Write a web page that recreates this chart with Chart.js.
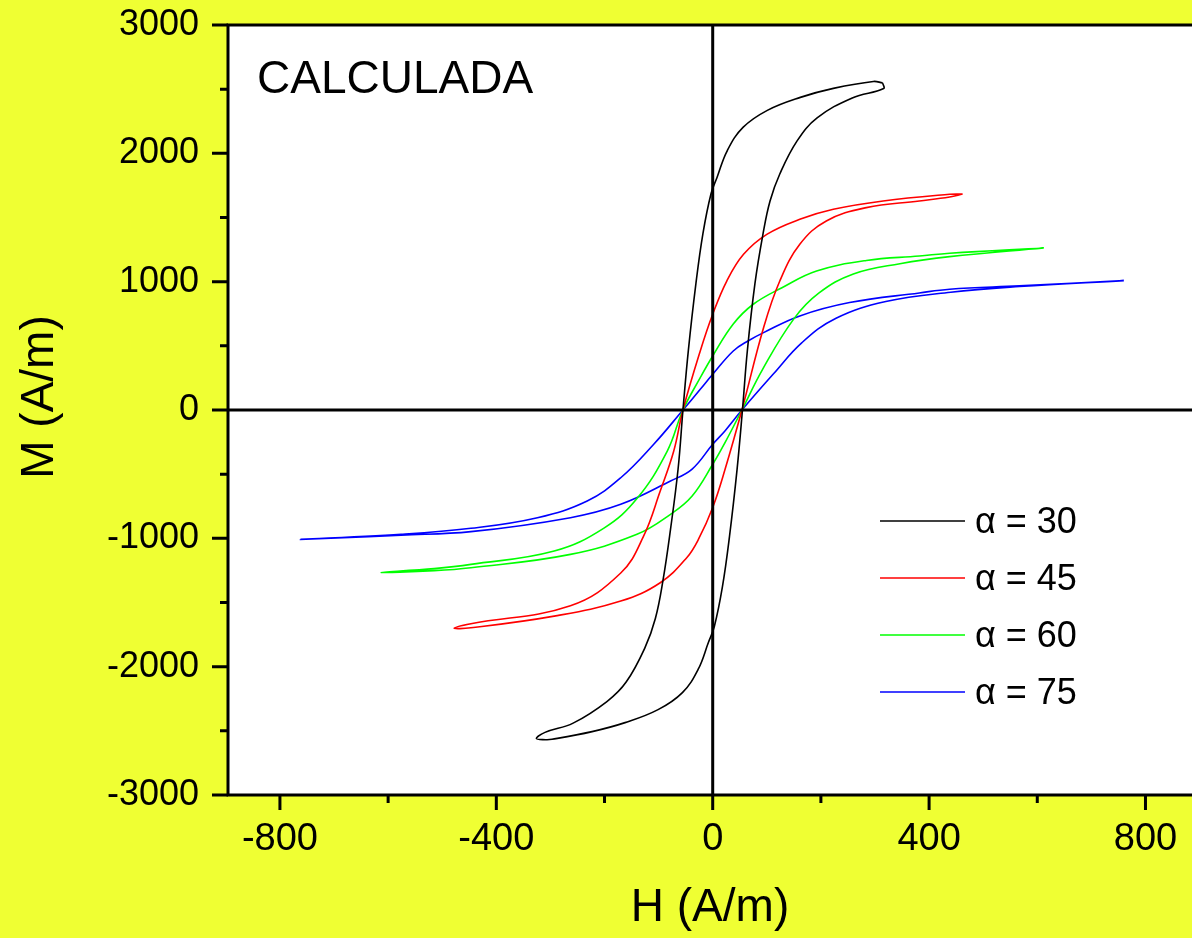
<!DOCTYPE html>
<html>
<head>
<meta charset="utf-8">
<script src="https://cdn.jsdelivr.net/npm/chart.js@4.4.1/dist/chart.umd.min.js"></script>
<style>
  html, body { margin: 0; padding: 0; background: #efff33; }
  #wrap { width: 1192px; height: 938px; }
</style>
</head>
<body>
<div id="wrap"><canvas id="chartLoop"></canvas></div>
<script>
// tick labels
const xTickLabels = [-800, -400, 0, 400, 800];
const yTickLabels = [-3000, -2000, -1000, 0, 1000, 2000, 3000];
const xMinorTicks = [-600, -200, 200, 600];
const yMinorTicks = [-2500, -1500, -500, 500, 1500, 2500];

// series labels
const seriesLabels = ['α = 30', 'α = 45', 'α = 60', 'α = 75'];

// each loop: descending branch (from the right tip) then ascending branch
// a = 30
const h30 = [314, 297, 223, 162, 101, 56, 27, 8, -3, -18, -31, -45, -55, -64, -78, -92, -106, -125, -160, -195, -258, -310, -326,
             -309, -297, -223, -162, -101, -56, -27, -8, 3, 18, 31, 45, 55, 64, 78, 93, 106, 124, 156, 193, 258, 316, 314];
const m30 = [2549, 2560, 2506, 2436, 2335, 2202, 2022, 1812, 1687, 1376, 986, 464, 0, -460, -930, -1330, -1625, -1850, -2120, -2270, -2440, -2512, -2560,
             -2569, -2566, -2506, -2436, -2335, -2202, -2022, -1812, -1687, -1376, -986, -464, 0, 460, 982, 1372, 1629, 1839, 2097, 2276, 2432, 2505, 2549];

// a = 45
const h45 = [462, 438, 315, 223, 161, 100, 57, 26, 0, -23, -55, -72, -97, -128, -170, -263, -447, -478,
             -447, -293, -170, -97, -48, -26, 0, 23, 54, 94, 124, 161, 210, 284, 382, 438, 462];
const m45 = [1683, 1681, 1629, 1564, 1486, 1369, 1213, 1005, 746, 460, 0, -320, -631, -985, -1270, -1525, -1665, -1700,
             -1697, -1606, -1489, -1346, -1151, -1005, -760, -460, 0, 641, 1005, 1291, 1473, 1577, 1629, 1660, 1683];

// a = 60
const h60 = [612, 438, 382, 284, 192, 128, 75, 38, 0, -23, -55, -84, -140, -201, -293, -447, -515, -613,
             -515, -447, -263, -140, -78, -38, 0, 23, 54, 92, 150, 196, 260, 346, 438, 612];
const m60 = [1262, 1222, 1200, 1165, 1083, 953, 824, 670, 421, 252, 0, -320, -690, -920, -1099, -1203, -1236, -1266,
             -1252, -1229, -1125, -969, -813, -670, -423, -252, 0, 315, 710, 910, 1060, 1140, 1195, 1262];

// a = 75
const h75 = [760, 567, 438, 382, 253, 161, 94, 66, 38, 0, -23, -55, -109, -170, -232, -324, -447, -576, -762,
             -576, -447, -263, -170, -78, -38, 0, 23, 54, 112, 165, 228, 320, 440, 567, 760];
const m75 = [1008, 967, 941, 912, 837, 733, 603, 540, 460, 278, 161, 0, -267, -528, -709, -839, -922, -969, -1008,
             -975, -948, -839, -735, -553, -460, -267, -161, 0, 280, 525, 715, 845, 918, 962, 1008];

const seriesColors = ['#000000', '#ff0000', '#00ff00', '#0000ff'];

function toPoints(hs, ms) {
    return hs.map((h, i) => ({ x: h, y: ms[i] }));
}

const loops = [[h30, m30], [h45, m45], [h60, m60], [h75, m75]];

const datasets = loops.map((loop, i) => ({
    label: seriesLabels[i],
    data: toPoints(loop[0], loop[1]),
    borderColor: seriesColors[i],
    backgroundColor: seriesColors[i],
    borderWidth: 1.6,
    pointRadius: 0,
    showLine: true,
    tension: 0.4,
    fill: false
}));

const framePlugin = {
    id: 'frame',
    beforeDraw(chart) {
        const { ctx, chartArea } = chart;
        ctx.save();
        ctx.fillStyle = '#ffffff';
        ctx.fillRect(chartArea.left, chartArea.top, chartArea.right - chartArea.left, chartArea.bottom - chartArea.top);
        ctx.restore();
    },
    afterDatasetsDraw(chart) {
        const { ctx, chartArea } = chart;
        const xs = chart.scales.x, ys = chart.scales.y;
        ctx.save();
        ctx.strokeStyle = '#000';
        ctx.lineWidth = 3;

        // zero lines
        const x0 = xs.getPixelForValue(0), y0 = ys.getPixelForValue(0);
        ctx.beginPath();
        ctx.moveTo(x0, chartArea.top);
        ctx.lineTo(x0, chartArea.bottom);
        ctx.moveTo(chartArea.left, y0);
        ctx.lineTo(chartArea.right, y0);
        ctx.stroke();

        // frame (right side is outside the picture)
        ctx.beginPath();
        ctx.moveTo(chartArea.right + 2, chartArea.top);
        ctx.lineTo(chartArea.left, chartArea.top);
        ctx.lineTo(chartArea.left, chartArea.bottom);
        ctx.lineTo(chartArea.right + 2, chartArea.bottom);
        ctx.stroke();

        // tick marks
        ctx.beginPath();
        xTickLabels.forEach(v => { const p = xs.getPixelForValue(v); ctx.moveTo(p, chartArea.bottom); ctx.lineTo(p, chartArea.bottom + 15); });
        xMinorTicks.forEach(v => { const p = xs.getPixelForValue(v); ctx.moveTo(p, chartArea.bottom); ctx.lineTo(p, chartArea.bottom + 8); });
        yTickLabels.forEach(v => { const p = ys.getPixelForValue(v); ctx.moveTo(chartArea.left - 16, p); ctx.lineTo(chartArea.left, p); });
        yMinorTicks.forEach(v => { const p = ys.getPixelForValue(v); ctx.moveTo(chartArea.left - 8, p); ctx.lineTo(chartArea.left, p); });
        ctx.stroke();

        // legend inside the plot
        ctx.font = '36px "Liberation Sans", Arial, sans-serif';
        ctx.textBaseline = 'middle';
        ctx.textAlign = 'left';
        chart.data.datasets.forEach((ds, i) => {
            const y = 521 + i * 57;
            ctx.strokeStyle = ds.borderColor;
            ctx.lineWidth = 1.6;
            ctx.beginPath();
            ctx.moveTo(880, y);
            ctx.lineTo(965, y);
            ctx.stroke();
            ctx.fillStyle = '#000';
            ctx.fillText(ds.label, 975, y + 2);
        });

        // annotation
        ctx.font = '46px "Liberation Sans", Arial, sans-serif';
        ctx.textBaseline = 'alphabetic';
        ctx.fillText('CALCULADA', 257, 93);

        // y title
        ctx.translate(40, 397);
        ctx.rotate(-Math.PI / 2);
        ctx.textAlign = 'center';
        ctx.textBaseline = 'middle';
        ctx.fillText('M (A/m)', 0, 0);
        ctx.restore();
    }
};

const ctx = document.getElementById('chartLoop').getContext('2d');
const chart = new Chart(ctx, {
    type: 'scatter',
    data: { datasets: datasets },
    options: {
        responsive: true,
        maintainAspectRatio: false,
        animation: false,
        layout: { padding: { top: 25, right: 0, left: 0, bottom: 0 } },
        plugins: {
            legend: { display: false },
            tooltip: { enabled: false }
        },
        scales: {
            x: {
                type: 'linear',
                min: -896,
                max: 886,
                grid: { display: false, drawTicks: false },
                border: { display: false },
                afterBuildTicks: scale => { scale.ticks = xTickLabels.map(v => ({ value: v })); },
                afterFit: scale => {
                    scale.height = 143;
                    scale.paddingLeft = 0;
                    scale.paddingRight = 0;
                },
                ticks: {
                    color: '#000',
                    padding: 22,
                    maxRotation: 0,
                    callback: v => String(v),
                    font: { family: '"Liberation Sans", Arial, sans-serif', size: 38 }
                },
                title: {
                    display: true,
                    text: 'H (A/m)',
                    color: '#000',
                    padding: { top: 0, bottom: 2 },
                    font: { family: '"Liberation Sans", Arial, sans-serif', size: 46 }
                }
            },
            y: {
                type: 'linear',
                min: -3000,
                max: 3000,
                grid: { display: false, drawTicks: false },
                border: { display: false },
                afterBuildTicks: scale => { scale.ticks = yTickLabels.map(v => ({ value: v })); },
                afterFit: scale => {
                    scale.width = 228;
                    scale.paddingTop = 0;
                    scale.paddingBottom = 0;
                },
                ticks: {
                    color: '#000',
                    padding: 29,
                    callback: v => String(v),
                    font: { family: '"Liberation Sans", Arial, sans-serif', size: 36 }
                }
            }
        }
    },
    plugins: [framePlugin]
});
</script>
</body>
</html>
